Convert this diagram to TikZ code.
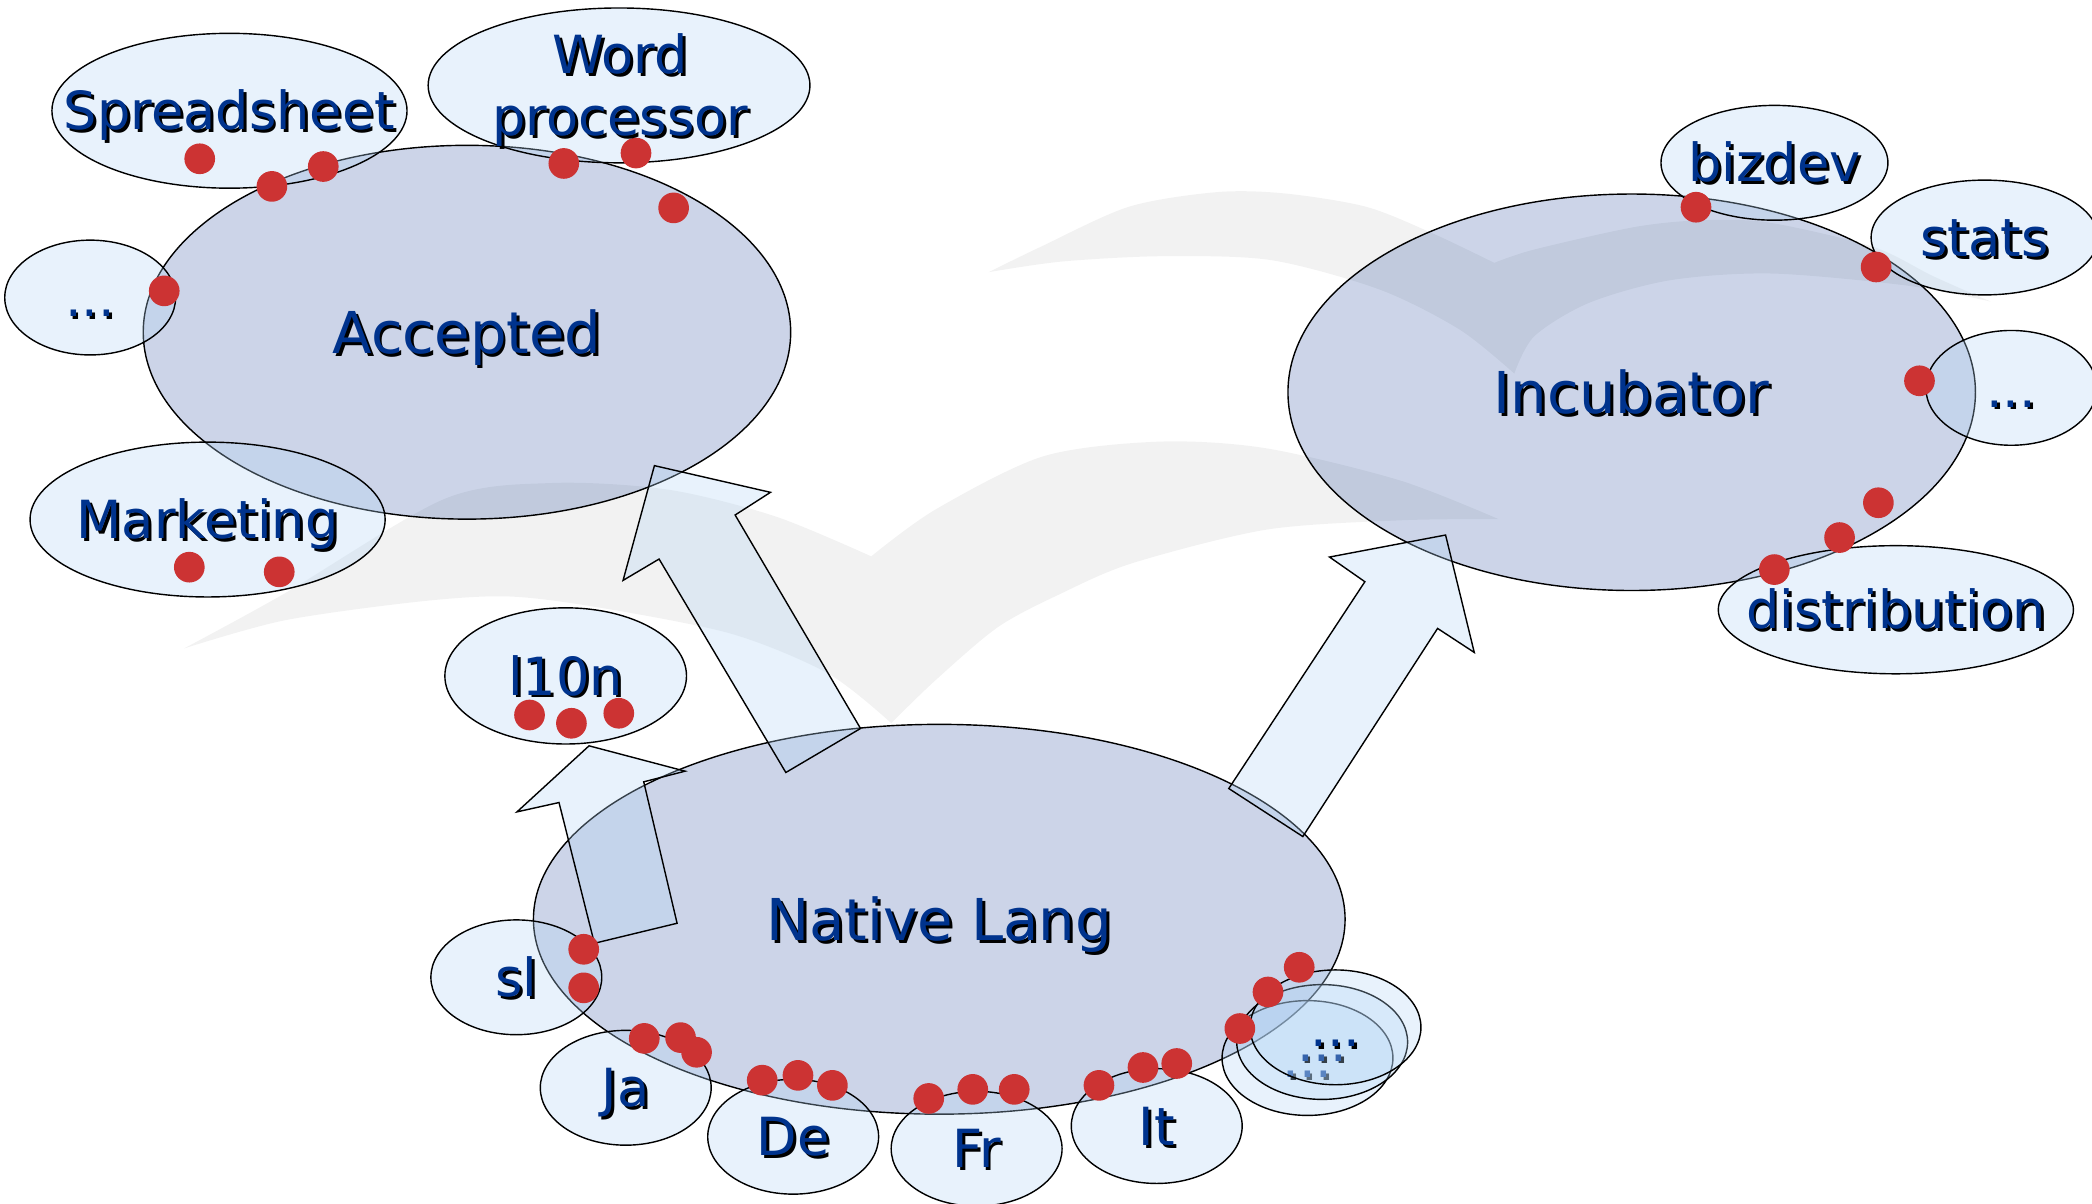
\documentclass[tikz,border=0pt]{standalone}
\usepackage{fontspec}
\setmainfont{DejaVu Sans}
\usetikzlibrary{shapes.geometric}

\definecolor{navy}{RGB}{0,51,141}
\definecolor{dotred}{RGB}{204,51,51}
\definecolor{bigfill}{RGB}{0,42,140}
\definecolor{smallfill}{RGB}{178,212,245}
\newcommand{\shd}[1]{\rlap{\hspace{0.6pt}\raisebox{-0.6pt}{\color{black}#1}}#1}

\begin{document}
\begin{tikzpicture}[x=0.01cm, y=-0.01cm,
    big/.style={ellipse, draw, line width=0.3pt, fill=bigfill, fill opacity=0.2, inner sep=0pt},
    small/.style={ellipse, draw, line width=0.3pt, fill=smallfill, fill opacity=0.3, inner sep=0pt,
                  minimum width=1.28cm, minimum height=0.86cm},
    wide/.style={small, minimum width=2.66cm, minimum height=1.16cm},
    bigtxt/.style={text=navy, inner sep=0pt, font=\fontsize{12.3}{14}\selectfont, text height=8.97pt, text depth=0pt},
    txt/.style={text=navy, inner sep=0pt, font=\fontsize{11.2}{13}\selectfont, text height=8.17pt, text depth=0pt},
    blockarrow/.style={draw, line width=0.3pt, fill=smallfill, fill opacity=0.3},
    swoosh/.style={fill=black!5}
]
\useasboundingbox (0,0) rectangle (1568,902);

\fill[swoosh] plot[smooth] coordinates {(741,204) (780,185) (846,155) (912,144) (963,145) (1024,155) (1074,175) (1120,197)}
  -- plot[smooth] coordinates {(1120,197) (1150,187) (1226,170) (1277,165) (1327,167) (1404,185) (1449,207) (1492,226)}
  -- plot[smooth] coordinates {(1492,226) (1429,214) (1328,205) (1252,210) (1191,227) (1150,252) (1135,280)}
  -- plot[smooth] coordinates {(1135,280) (1094,247) (1034,217) (953,195) (872,192) (796,196) (741,204)} -- cycle;
\fill[swoosh] plot[smooth] coordinates {(138,486) (213,445) (333,374) (414,362) (501,367) (581,387) (653,417)}
  -- plot[smooth] coordinates {(653,417) (701,382) (782,342) (869,331) (949,336) (1049,360) (1123,389)}
  -- plot[smooth] coordinates {(1123,389) (1049,390) (949,397) (849,422) (795,445) (748,470) (701,510) (668,542)}
  -- plot[smooth] coordinates {(668,542) (621,505) (548,475) (447,455) (380,447) (313,451) (213,465) (138,486)} -- cycle;

\node[big, minimum width=4.85cm, minimum height=2.80cm] (acc) at (350,249) {};
\node[big, minimum width=5.15cm, minimum height=2.97cm] (inc) at (1223,294) {};
\node[big, minimum width=6.08cm, minimum height=2.92cm] (nat) at (704,689) {};

\draw[blockarrow] (589,579) -- (494,419) -- (467,435) -- (490.5,349) -- (577.5,369) -- (551,386) -- (645,546) -- cycle;
\draw[blockarrow] (921,591) -- (1023,436) -- (996.5,417.5) -- (1083.5,401) -- (1105,489) -- (1077.5,471) -- (976.5,627) -- cycle;
\draw[blockarrow] (445.5,707) -- (419,601.5) -- (387.5,608.5) -- (441.5,559) -- (513.5,578) -- (482.5,586) -- (507.5,692) -- cycle;

\node[wide] (spr) at (172,83) {};
\node[wide, minimum width=2.86cm] (wp) at (464,64) {};
\node[small] (accmore) at (67.6,223) {};
\node[wide] (mkt) at (155.6,389.4) {};
\node[small, minimum width=1.70cm] (biz) at (1330,122) {};
\node[small, minimum width=1.70cm] (stats) at (1487.5,178) {};
\node[small] (incmore) at (1507.5,290.7) {};
\node[wide, minimum height=0.96cm] (dist) at (1421,457) {};
\node[small, minimum width=1.81cm, minimum height=1.02cm] (lten) at (424,506.6) {};
\node[small] (sl) at (387,732.5) {};
\node[small] (ja) at (469,815.3) {};
\node[small] (de) at (594.5,852) {};
\node[small] (fr) at (732,861) {};
\node[small] (it) at (867,844) {};

\foreach \x/\y [count=\i] in {980/793, 991/781, 1001/770} {
    \node[small] (natmore\i) at (\x,\y) {};
    \node[txt] (natmoretxt\i) at (natmore\i) {\shd{...}};
}

\foreach \x/\y in {149.7/119, 203.8/139.7, 242.3/124.8, 422.6/122.5, 476.7/114.7, 504.9/155.8,
                   123.1/218, 141.9/425.1, 209.3/428.6,
                   1271.2/155.3, 1406.2/200.1, 1438.7/285.4, 1407.9/376.8, 1378.8/402.9, 1329.9/426.9,
                   396.9/535.9, 428.3/542.1, 463.8/534.6,
                   437.5/711.5, 437.5/740.4, 482.9/778.3, 510.1/777.7, 522.1/788.7,
                   571.3/809.6, 598.1/806, 623.9/813.5, 696.1/823.3, 729.1/816.5, 760.2/816.5,
                   823.7/813.5, 856.7/800.1, 882/797.1, 929.3/770.9, 950.4/743.5, 973.8/725}
    \fill[dotred] (\x,\y) circle (11.5);

\node[bigtxt] (acctxt) at (acc) {\shd{Accepted}};
\node[bigtxt] (inctxt) at (inc) {\shd{Incubator}};
\node[bigtxt] (nattxt) at (nat) {\shd{Native Lang}};
\node[txt] (sprtxt) at (spr) {\shd{Spreadsheet}};
\node[txt] (wordtxt) at (465,41) {\shd{Word}};
\node[txt] (proctxt) at (465,87.5) {\shd{processor}};
\node[txt] (accmoretxt) at (accmore) {\shd{...}};
\node[txt] (mkttxt) at (mkt) {\shd{Marketing}};
\node[txt] (biztxt) at (biz) {\shd{bizdev}};
\node[txt] (statstxt) at (stats) {\shd{stats}};
\node[txt] (incmoretxt) at (incmore) {\shd{...}};
\node[txt] (disttxt) at (dist) {\shd{distribution}};
\node[txt] (ltentxt) at (lten) {\shd{l10n}};
\node[txt] (sltxt) at (sl) {\shd{sl}};
\node[txt] (jatxt) at (ja) {\shd{Ja}};
\node[txt] (detxt) at (de) {\shd{De}};
\node[txt] (frtxt) at (fr) {\shd{Fr}};
\node[txt] (ittxt) at (it) {\shd{It}};
\end{tikzpicture}
\end{document}
